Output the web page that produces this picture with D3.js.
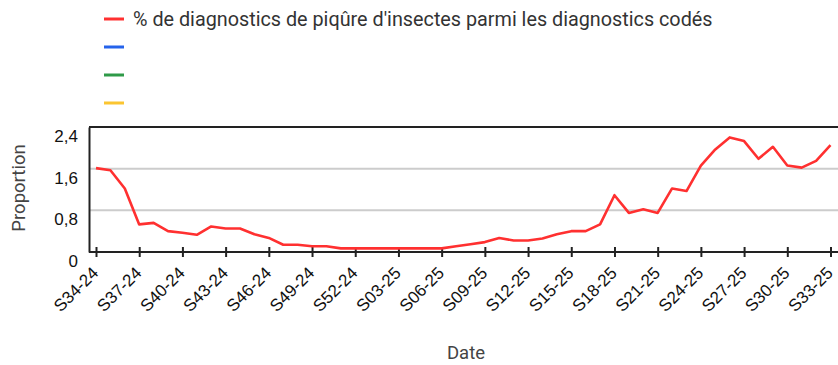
<!DOCTYPE html>
<html>
<head>
<meta charset="utf-8">
<script src="https://cdn.jsdelivr.net/npm/d3@7"></script>
<style>
  html, body { margin: 0; padding: 0; background: #fff; }
  svg { display: block; }
</style>
</head>
<body>
<svg id="chart" width="838" height="365"></svg>
<script>
// Weekly share of insect-bite diagnoses among coded diagnoses
const weeks = [
  "S34-24","S35-24","S36-24","S37-24","S38-24","S39-24","S40-24","S41-24","S42-24","S43-24",
  "S44-24","S45-24","S46-24","S47-24","S48-24","S49-24","S50-24","S51-24","S52-24",
  "S01-25","S02-25","S03-25","S04-25","S05-25","S06-25","S07-25","S08-25","S09-25","S10-25",
  "S11-25","S12-25","S13-25","S14-25","S15-25","S16-25","S17-25","S18-25","S19-25","S20-25",
  "S21-25","S22-25","S23-25","S24-25","S25-25","S26-25","S27-25","S28-25","S29-25","S30-25",
  "S31-25","S32-25","S33-25"
];
const proportion = [
  1.61, 1.57, 1.22, 0.53, 0.56, 0.40, 0.37, 0.33, 0.49, 0.45,
  0.45, 0.34, 0.27, 0.14, 0.14, 0.11, 0.11, 0.07, 0.07,
  0.07, 0.07, 0.07, 0.07, 0.07, 0.07, 0.11, 0.15, 0.19, 0.27,
  0.22, 0.22, 0.26, 0.34, 0.40, 0.40, 0.53, 1.09, 0.75, 0.82,
  0.75, 1.22, 1.17, 1.66, 1.97, 2.20, 2.13, 1.79, 2.02, 1.66,
  1.62, 1.75, 2.05
];
const yTicks = [0, 0.8, 1.6, 2.4];
const legendItems = [
  { label: "% de diagnostics de piqûre d'insectes parmi les diagnostics codés", color: "#ff3030" },
  { label: "", color: "#2563eb" },
  { label: "", color: "#2f9a48" },
  { label: "", color: "#fbc531" }
];

const svg = d3.select("#chart");
const plot = { left: 89, right: 838, top: 127, bottom: 252 };

const x = d3.scalePoint().domain(weeks).range([96, 830.5]);
const y = d3.scaleLinear().domain([0, 2.4]).range([plot.bottom, plot.top]);
const fr = d3.formatLocale({ decimal: ",", thousands: " ", grouping: [3], currency: ["", "€"] });
const fmt = v => v === 0 ? "0" : fr.format(".1f")(v);

// Gridlines
svg.append("g")
  .selectAll("line")
  .data(yTicks.filter(v => v > 0 && v < 2.4))
  .join("line")
  .attr("x1", plot.left).attr("x2", plot.right)
  .attr("y1", d => y(d)).attr("y2", d => y(d))
  .attr("stroke", "#cccccc").attr("stroke-width", 2);

// Top frame line
svg.append("line")
  .attr("x1", plot.left).attr("x2", plot.right)
  .attr("y1", y(2.4)).attr("y2", y(2.4))
  .attr("stroke", "#222").attr("stroke-width", 2);

// Y axis
const yAxis = svg.append("g")
  .attr("transform", `translate(${plot.left},0)`)
  .call(d3.axisLeft(y).tickValues(yTicks).tickFormat(fmt).tickSize(0).tickPadding(11));
yAxis.select(".domain").attr("stroke", "#222").attr("stroke-width", 2);
yAxis.selectAll("text")
  .attr("font-family", "Liberation Sans, Arial, sans-serif")
  .attr("font-size", 17)
  .attr("fill", "#111")
  .attr("dy", "0.85em");

// X axis
const xAxis = svg.append("g")
  .attr("transform", `translate(0,${plot.bottom})`)
  .call(d3.axisBottom(x).tickValues(weeks.filter((d, i) => i % 3 === 0)).tickSizeOuter(0));
xAxis.select(".domain")
  .attr("d", `M${plot.left},0H${plot.right}`)
  .attr("stroke", "#222").attr("stroke-width", 2);
xAxis.selectAll(".tick line")
  .attr("y1", -5).attr("y2", 5)
  .attr("stroke", "#222").attr("stroke-width", 2);
xAxis.selectAll(".tick text")
  .attr("font-family", "Liberation Sans, Arial, sans-serif")
  .attr("font-size", 17)
  .attr("fill", "#111")
  .attr("text-anchor", "end")
  .attr("dy", null)
  .attr("y", null)
  .attr("transform", "translate(3,22) rotate(-45)");

// Line series
svg.append("path")
  .datum(proportion)
  .attr("fill", "none")
  .attr("stroke", legendItems[0].color)
  .attr("stroke-width", 2.6)
  .attr("stroke-linejoin", "round")
  .attr("d", d3.line().x((d, i) => x(weeks[i])).y(d => y(d)));

// Axis titles
svg.append("text")
  .attr("transform", "translate(25,188) rotate(-90)")
  .attr("text-anchor", "middle")
  .attr("font-family", "Roboto, Arial, sans-serif")
  .attr("font-size", 18.5)
  .attr("fill", "#444")
  .text("Proportion");

svg.append("text")
  .attr("x", 466).attr("y", 359)
  .attr("text-anchor", "middle")
  .attr("font-family", "Roboto, Arial, sans-serif")
  .attr("font-size", 18.5)
  .attr("fill", "#444")
  .text("Date");

// Legend
const lg = svg.append("g")
  .selectAll("g")
  .data(legendItems)
  .join("g")
  .attr("transform", (d, i) => `translate(104,${19 + i * 28})`);
lg.append("line")
  .attr("x1", 0).attr("x2", 20)
  .attr("stroke", d => d.color).attr("stroke-width", 3);
lg.append("text")
  .attr("x", 29).attr("y", 7)
  .attr("font-family", "Roboto, Arial, sans-serif")
  .attr("font-size", 19.8)
  .attr("fill", "#333")
  .text(d => d.label);
</script>
</body>
</html>
